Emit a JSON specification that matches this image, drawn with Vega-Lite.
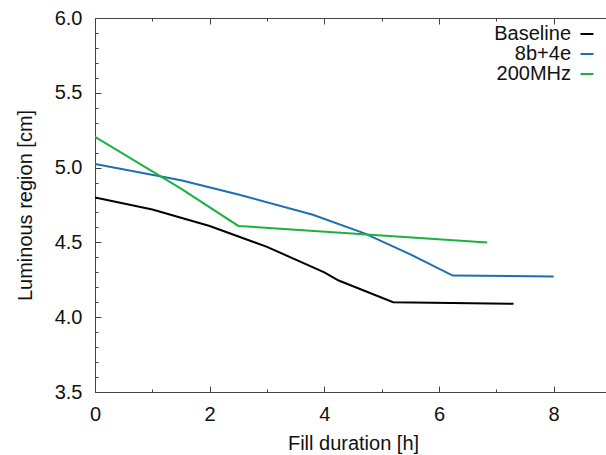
{
  "$schema": "https://vega.github.io/schema/vega-lite/v6.json",
  "width": 516,
  "height": 374,
  "autosize": "none",
  "padding": {"left": 95, "top": 18, "right": 0, "bottom": 63},
  "background": "white",
  "config": {
    "font": "Liberation Sans",
    "view": {"stroke": "#444", "strokeWidth": 1},
    "axis": {
      "grid": false,
      "domainColor": "#444",
      "tickColor": "#444",
      "labelColor": "#111",
      "titleColor": "#111",
      "labelFont": "Liberation Sans",
      "titleFont": "Liberation Sans",
      "labelFontSize": 20,
      "titleFontSize": 20,
      "titleFontWeight": "normal",
      "labelOverlap": false,
      "labelFlush": false
    }
  },
  "data": {
    "values": [
      {"series": "Baseline", "t": 0, "v": 4.80},
      {"series": "Baseline", "t": 1, "v": 4.72},
      {"series": "Baseline", "t": 2, "v": 4.61},
      {"series": "Baseline", "t": 3, "v": 4.47},
      {"series": "Baseline", "t": 4, "v": 4.30},
      {"series": "Baseline", "t": 4.25, "v": 4.245},
      {"series": "Baseline", "t": 5.2, "v": 4.10},
      {"series": "Baseline", "t": 7.3, "v": 4.09},
      {"series": "8b+4e", "t": 0, "v": 5.025},
      {"series": "8b+4e", "t": 1.5, "v": 4.915},
      {"series": "8b+4e", "t": 2.5, "v": 4.82},
      {"series": "8b+4e", "t": 3.8, "v": 4.685},
      {"series": "8b+4e", "t": 4.7, "v": 4.56},
      {"series": "8b+4e", "t": 5.5, "v": 4.42},
      {"series": "8b+4e", "t": 6.24, "v": 4.278},
      {"series": "8b+4e", "t": 8.0, "v": 4.272},
      {"series": "200MHz", "t": 0, "v": 5.205},
      {"series": "200MHz", "t": 1.5, "v": 4.86},
      {"series": "200MHz", "t": 2.5, "v": 4.61},
      {"series": "200MHz", "t": 6.84, "v": 4.50}
    ]
  },
  "layer": [
    {
      "transform": [{"filter": "datum.series !== '200MHz'"}],
      "mark": {"type": "line", "strokeWidth": 2, "clip": true},
      "encoding": {
        "x": {
          "field": "t", "type": "quantitative",
          "scale": {"domain": [0, 9], "nice": false, "zero": false},
          "axis": {
            "orient": "bottom",
            "title": "Fill duration [h]",
            "values": [0, 1, 2, 3, 4, 5, 6, 7, 8, 9],
            "labelExpr": "datum.value % 2 === 0 ? datum.label : ''",
            "labelOverlap": false,
            "tickSize": {"condition": {"test": "datum.value % 2 === 0", "value": -6}, "value": -3},
            "labelPadding": 18,
            "titlePadding": 6
          }
        },
        "y": {
          "field": "v", "type": "quantitative",
          "scale": {"domain": [3.5, 6.0], "nice": false, "zero": false},
          "axis": {
            "title": "Luminous region [cm]",
            "values": [3.5, 3.6, 3.7, 3.8, 3.9, 4.0, 4.1, 4.2, 4.3, 4.4, 4.5, 4.6, 4.7, 4.8, 4.9, 5.0, 5.1, 5.2, 5.3, 5.4, 5.5, 5.6, 5.7, 5.8, 5.9, 6.0],
            "format": ".1f",
            "labelOverlap": false,
            "labelExpr": "indexof(['3.5','4.0','4.5','5.0','5.5','6.0'], datum.label) >= 0 ? datum.label : ''",
            "tickSize": {"condition": {"test": "indexof(['3.5','4.0','4.5','5.0','5.5','6.0'], format(datum.value, '.1f')) >= 0", "value": -6}, "value": -3},
            "labelPadding": 19,
            "titlePadding": 19
          }
        },
        "color": {
          "field": "series", "type": "nominal",
          "scale": {"domain": ["Baseline", "8b+4e", "200MHz"], "range": ["#000000", "#1f6db5", "#1cb13c"]},
          "legend": {
            "title": null,
            "orient": "none",
            "legendX": 482,
            "legendY": 6,
            "symbolType": "stroke",
            "symbolSize": 169,
            "symbolStrokeWidth": 2,
            "labelAlign": "right",
            "labelOffset": -26,
            "labelFontSize": 20,
            "labelFont": "Liberation Sans",
            "labelColor": "#111",
            "rowPadding": 0
          }
        },
        "detail": {"field": "series"}
      }
    },
    {
      "transform": [{"filter": "datum.series === '200MHz'"}],
      "mark": {"type": "line", "strokeWidth": 2, "clip": true},
      "encoding": {
        "x": {
          "field": "t", "type": "quantitative",
          "axis": {
            "orient": "top",
            "title": null,
            "labels": false,
            "domain": false,
            "values": [0, 1, 2, 3, 4, 5, 6, 7, 8, 9],
            "tickSize": {"condition": {"test": "datum.value % 2 === 0", "value": -6}, "value": -3}
          }
        },
        "y": {
          "field": "v", "type": "quantitative",
          "axis": {
            "title": "Luminous region [cm]",
            "values": [3.5, 3.6, 3.7, 3.8, 3.9, 4.0, 4.1, 4.2, 4.3, 4.4, 4.5, 4.6, 4.7, 4.8, 4.9, 5.0, 5.1, 5.2, 5.3, 5.4, 5.5, 5.6, 5.7, 5.8, 5.9, 6.0],
            "format": ".1f",
            "labelOverlap": false,
            "labelExpr": "indexof(['3.5','4.0','4.5','5.0','5.5','6.0'], datum.label) >= 0 ? datum.label : ''",
            "tickSize": {"condition": {"test": "indexof(['3.5','4.0','4.5','5.0','5.5','6.0'], format(datum.value, '.1f')) >= 0", "value": -6}, "value": -3},
            "labelPadding": 19,
            "titlePadding": 19
          }
        },
        "color": {"field": "series", "type": "nominal"}
      }
    }
  ],
  "resolve": {"axis": {"x": "independent"}}
}
